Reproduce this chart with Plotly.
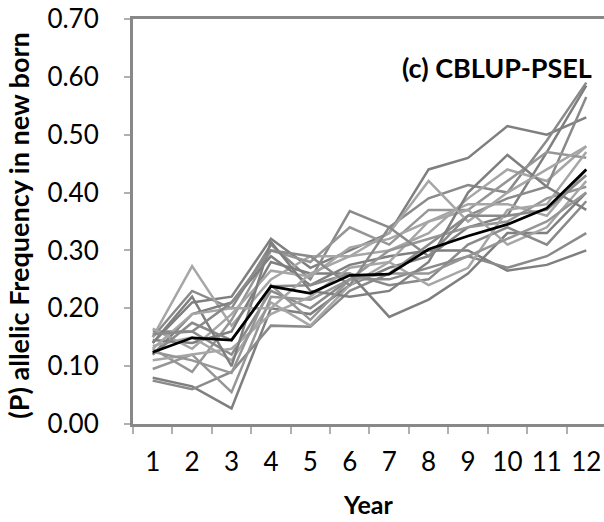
import plotly.graph_objects as go

years = [str(i) for i in range(1, 13)]

gray_series = [
    [0.14, 0.21, 0.22, 0.32, 0.27, 0.30, 0.33, 0.44, 0.46, 0.515, 0.50, 0.53],
    [0.15, 0.23, 0.20, 0.31, 0.25, 0.368, 0.34, 0.39, 0.413, 0.40, 0.49, 0.59],
    [0.15, 0.273, 0.17, 0.25, 0.29, 0.29, 0.30, 0.33, 0.39, 0.44, 0.42, 0.48],
    [0.08, 0.065, 0.027, 0.20, 0.19, 0.24, 0.27, 0.29, 0.34, 0.36, 0.47, 0.585],
    [0.075, 0.06, 0.09, 0.17, 0.168, 0.23, 0.26, 0.31, 0.36, 0.39, 0.41, 0.565],
    [0.13, 0.09, 0.18, 0.30, 0.28, 0.34, 0.31, 0.37, 0.37, 0.42, 0.47, 0.46],
    [0.12, 0.19, 0.21, 0.29, 0.24, 0.275, 0.29, 0.30, 0.30, 0.265, 0.275, 0.30],
    [0.16, 0.16, 0.12, 0.23, 0.20, 0.25, 0.25, 0.27, 0.29, 0.27, 0.29, 0.33],
    [0.135, 0.15, 0.11, 0.21, 0.17, 0.24, 0.28, 0.35, 0.38, 0.38, 0.36, 0.44],
    [0.095, 0.12, 0.055, 0.22, 0.215, 0.25, 0.30, 0.32, 0.34, 0.35, 0.39, 0.41],
    [0.145, 0.14, 0.16, 0.28, 0.26, 0.26, 0.185, 0.215, 0.26, 0.33, 0.33, 0.40],
    [0.165, 0.13, 0.19, 0.265, 0.255, 0.305, 0.32, 0.35, 0.37, 0.31, 0.34, 0.42],
    [0.12, 0.175, 0.145, 0.238, 0.24, 0.26, 0.24, 0.25, 0.31, 0.34, 0.31, 0.385],
    [0.11, 0.12, 0.13, 0.19, 0.22, 0.27, 0.28, 0.24, 0.27, 0.37, 0.38, 0.47],
    [0.14, 0.22, 0.10, 0.315, 0.23, 0.22, 0.23, 0.28, 0.40, 0.465, 0.41, 0.37],
    [0.125, 0.11, 0.088, 0.24, 0.18, 0.25, 0.26, 0.26, 0.29, 0.32, 0.35, 0.40],
    [0.13, 0.19, 0.20, 0.20, 0.26, 0.29, 0.33, 0.42, 0.35, 0.40, 0.44, 0.48],
    [0.155, 0.16, 0.21, 0.30, 0.29, 0.24, 0.34, 0.29, 0.36, 0.36, 0.37, 0.43],
]
gray_colors = ["#7f7f7f", "#8a8a8a", "#a6a6a6", "#7f7f7f", "#8a8a8a", "#969696",
               "#7f7f7f", "#8a8a8a", "#a6a6a6", "#969696", "#7f7f7f", "#a6a6a6",
               "#8a8a8a", "#a6a6a6", "#7f7f7f", "#969696", "#a6a6a6", "#8a8a8a"]

mean_series = [0.124, 0.149, 0.145, 0.238, 0.226, 0.257, 0.259, 0.302, 0.325, 0.345, 0.373, 0.44]

y_ticks = [0.0, 0.1, 0.2, 0.3, 0.4, 0.5, 0.6, 0.7]

fig = go.Figure()
for s, c in zip(gray_series, gray_colors):
    fig.add_trace(go.Scatter(x=years, y=s, mode="lines",
                             line=dict(color=c, width=2.5), showlegend=False,
                             hoverinfo="skip"))
fig.add_trace(go.Scatter(x=years, y=mean_series, mode="lines",
                         line=dict(color="#000000", width=2.75), showlegend=False))

axis_color = "#888888"
fig.update_layout(
    width=604, height=522,
    margin=dict(l=133, r=0, t=19, b=98),
    plot_bgcolor="white", paper_bgcolor="white",
    font=dict(family="Lato, Open Sans, sans-serif", color="#000000"),
    xaxis=dict(type="category", range=[-0.5, 11.45], showgrid=False,
               showline=True, linecolor=axis_color, linewidth=3, mirror=True,
               ticks="outside", tickson="boundaries", ticklen=7, tickcolor="#b0b0b0",
               tickwidth=1.5, tickfont=dict(size=26), tickangle=0, ticklabelstandoff=13,
               zeroline=False),
    yaxis=dict(range=[0, 0.70], tickvals=y_ticks, tickformat=".2f", showgrid=False,
               showline=True, linecolor=axis_color, linewidth=3,
               ticks="outside", ticklen=6, tickcolor="#b0b0b0", tickwidth=1.5,
               tickfont=dict(size=26), ticklabelstandoff=20, zeroline=False),
    annotations=[
        dict(text="<b>(c) CBLUP-PSEL</b>", xref="paper", yref="paper",
             x=0.772, y=0.881, xanchor="center", yanchor="middle",
             showarrow=False, font=dict(size=27, color="#000000")),
        dict(text="<b>(P) allelic Frequency in new born</b>", xref="paper", yref="paper",
             x=-0.244, y=0.49, xanchor="center", yanchor="middle", textangle=-90,
             showarrow=False, font=dict(size=27, color="#000000")),
        dict(text="<b>Year</b>", xref="paper", yref="paper",
             x=0.499, y=-0.198, xanchor="center", yanchor="middle",
             showarrow=False, font=dict(size=25, color="#000000")),
    ],
)

fig.write_html("out.html")
